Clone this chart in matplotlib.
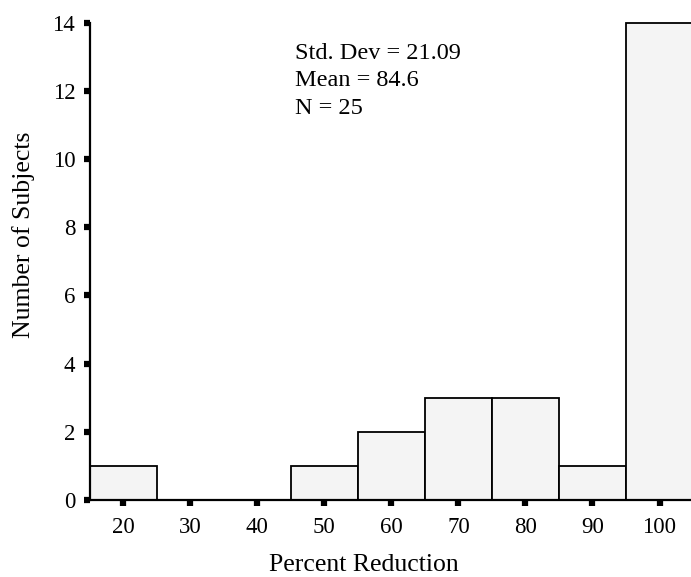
import matplotlib
matplotlib.use("Agg")
import matplotlib.pyplot as plt

bin_centers = [20, 30, 40, 50, 60, 70, 80, 90, 100]
counts = [1, 0, 0, 1, 2, 3, 3, 1, 14]
x_ticks = [20, 30, 40, 50, 60, 70, 80, 90, 100]
y_ticks = [0, 2, 4, 6, 8, 10, 12, 14]
stats_lines = ["Std. Dev = 21.09", "Mean = 84.6", "N = 25"]

plt.rcParams['font.family'] = ['Liberation Serif', 'DejaVu Serif']

fig = plt.figure(figsize=(6.91, 5.77), dpi=100)
ax = fig.add_axes([0.130, 0.1334, 0.870, 0.8273])

nz_c = [c for c, n in zip(bin_centers, counts) if n > 0]
nz_n = [n for n in counts if n > 0]
ax.bar(nz_c, nz_n, width=10, color='#f4f4f4', edgecolor='black', linewidth=1.3,
       zorder=2, clip_on=False)

ax.set_xlim(15, 104.7)
ax.set_ylim(0, 14)
ax.set_xticks(x_ticks)
ax.set_yticks(y_ticks)

for s in ['top', 'right']:
    ax.spines[s].set_visible(False)
for s in ['left', 'bottom']:
    ax.spines[s].set_linewidth(1.6)
    ax.spines[s].set_zorder(3)

ax.tick_params(axis='both', direction='out', length=4.5, width=4.5,
               labelsize=16.5, colors='black')
ax.tick_params(axis='x', pad=8)
ax.tick_params(axis='y', pad=6)

ax.set_xlabel("Percent Reduction", fontsize=18.5, va='center')
ax.xaxis.set_label_coords(0.456, -0.136)
ax.set_ylabel("Number of Subjects", fontsize=18.5, va='center')
ax.yaxis.set_label_coords(-0.11, 0.555)

for i, line in enumerate(stats_lines):
    ax.text(0.341, 0.936 - i * 0.058, line, transform=ax.transAxes,
            fontsize=17.5, va='center', ha='left')

fig.savefig("out.png", dpi=100)
